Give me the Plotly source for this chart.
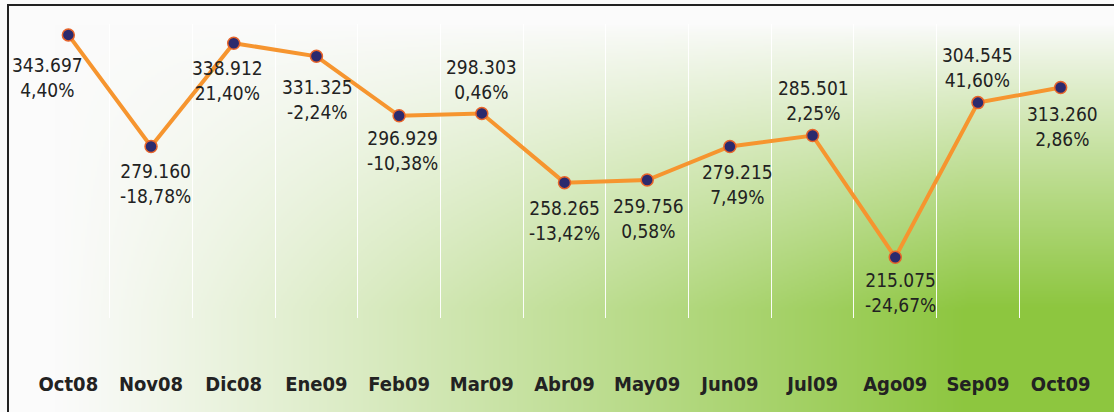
import base64, struct, zlib
import numpy as np
import plotly.graph_objects as go

# ---- data ----
categories = ["Oct08", "Nov08", "Dic08", "Ene09", "Feb09", "Mar09", "Abr09",
              "May09", "Jun09", "Jul09", "Ago09", "Sep09", "Oct09"]
values = [343.697, 279.160, 338.912, 331.325, 296.929, 298.303, 258.265,
          259.756, 279.215, 285.501, 215.075, 304.545, 313.260]
pct_change = [4.40, -18.78, 21.40, -2.24, -10.38, 0.46, -13.42,
              0.58, 7.49, 2.25, -24.67, 41.60, 2.86]

# label offsets in pixels (dx right, dy down) relative to each point
label_dx = [-21, 4, -6, 1, 3, 0, 0, 1, 8, 1, 5, 0, 2]
label_dy = [43, 37, 37, 43, 35, -34, 38, 38, 38, -35, 35, -35, 39]

W, H = 1114, 412
ML, MR, MT, MB = 27, 12, 24, 94
PW, PH = W - ML - MR, H - MT - MB


# ---- background gradient image ----
def png_uri(arr):
    h, w, _ = arr.shape
    raw = b"".join(b"\x00" + arr[i].tobytes() for i in range(h))

    def chunk(t, d):
        c = struct.pack(">I", len(d)) + t + d
        return c + struct.pack(">I", zlib.crc32(t + d) & 0xffffffff)

    png = b"\x89PNG\r\n\x1a\n" + chunk(b"IHDR", struct.pack(">IIBBBBB", w, h, 8, 2, 0, 0, 0)) \
        + chunk(b"IDAT", zlib.compress(raw, 9)) + chunk(b"IEND", b"")
    return "data:image/png;base64," + base64.b64encode(png).decode()


gw, gh = 557, 206
xs = (np.arange(gw) + 0.5) / gw
ys = (np.arange(gh) + 0.5) / gh * H
fx = np.clip((xs - 0.05) / 0.82, 0, 1) ** 1.1
fy = np.clip((ys - 25) / 285.0, 0, 1) ** 0.9
f = fy[:, None] * fx[None, :]
white = np.array([251, 251, 251], float)
green = np.array([141, 198, 63], float)
img = (white[None, None, :] * (1 - f[..., None]) + green[None, None, :] * f[..., None])
img = np.clip(img, 0, 255).astype(np.uint8)
bg_uri = png_uri(img)

fig = go.Figure()
fig.add_trace(go.Scatter(
    x=categories, y=values, mode="lines+markers",
    line=dict(color="#F6952F", width=4),
    marker=dict(size=12, color="#2B2A6E", line=dict(color="#E8642A", width=1.5)),
    cliponaxis=False, hoverinfo="skip", showlegend=False,
))

for c, v, p, dx, dy in zip(categories, values, pct_change, label_dx, label_dy):
    txt = f"{v:.3f}<br>" + f"{p:.2f}".replace(".", ",") + "%"
    fig.add_annotation(x=c, y=v, text=txt, showarrow=False,
                       xanchor="center", yanchor="middle",
                       xshift=dx, yshift=-dy,
                       font=dict(family="DejaVu Sans Condensed, Liberation Sans, sans-serif",
                                 size=19, color="#222222"))

px2x = lambda px: (px - ML) / PW
px2y = lambda py: 1 - (py - MT) / PH

fig.add_layout_image(dict(source=bg_uri, xref="paper", yref="paper",
                          x=px2x(0), y=px2y(0), sizex=W / PW, sizey=H / PH,
                          xanchor="left", yanchor="top", sizing="stretch",
                          layer="below"))

fig.add_shape(type="rect", xref="paper", yref="paper",
              x0=px2x(8), x1=px2x(W + 10), y0=px2y(H + 10), y1=px2y(5),
              line=dict(color="#222222", width=2), fillcolor="rgba(0,0,0,0)")

fig.update_layout(
    width=W, height=H,
    margin=dict(l=ML, r=MR, t=MT, b=MB),
    paper_bgcolor="white", plot_bgcolor="rgba(0,0,0,0)",
    xaxis=dict(type="category", range=[-0.5, 12.5], tickson="boundaries",
               showgrid=True, gridcolor="rgba(255,255,255,0.95)", gridwidth=1,
               showline=False, zeroline=False,
               ticks="", ticklabelstandoff=52,
               tickfont=dict(family="DejaVu Sans Condensed, Liberation Sans, sans-serif",
                             size=20, color="#222222", weight="bold")),
    yaxis=dict(range=[180, 350], showgrid=False, zeroline=False,
               showticklabels=False, showline=False, ticks=""),
)

fig.write_html("out.html", config={"displayModeBar": False},
               post_script="document.body.style.margin='0';document.body.style.overflow='hidden';")
